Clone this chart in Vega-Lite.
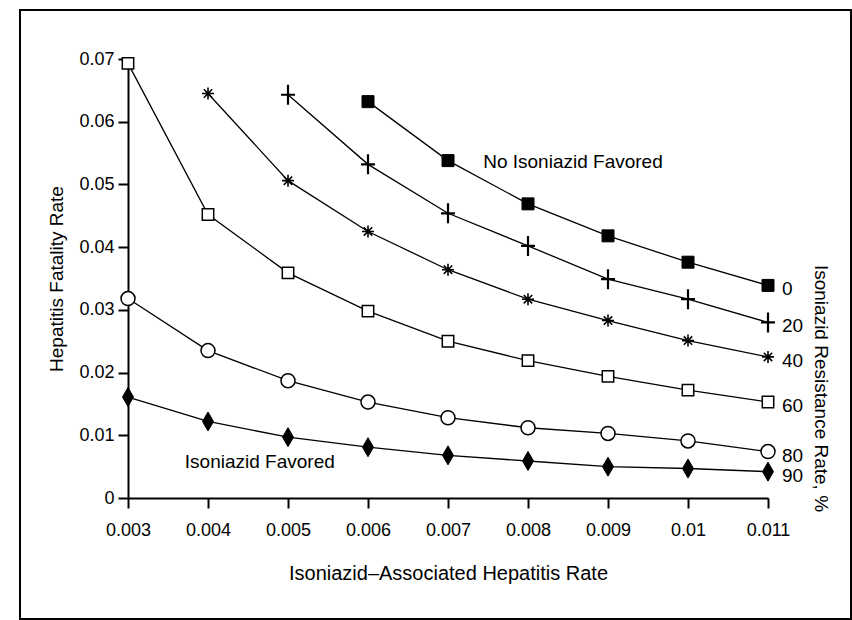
{
  "$schema": "https://vega.github.io/schema/vega-lite/v6.json",
  "width": 831,
  "height": 609,
  "autosize": {"type": "none"},
  "padding": {"left": 20, "top": 10, "right": 1, "bottom": 1},
  "background": "white",
  "config": {
    "view": {"stroke": "black", "strokeWidth": 2},
    "font": "Liberation Sans",
    "axis": {
      "grid": false,
      "domainColor": "black",
      "domainWidth": 2,
      "tickColor": "black",
      "tickWidth": 2,
      "tickSize": 10,
      "labelColor": "black",
      "titleColor": "black",
      "labelFont": "Liberation Sans",
      "titleFont": "Liberation Sans",
      "labelFontSize": 18,
      "titleFontSize": 19,
      "titleFontWeight": "normal",
      "labelFlush": false
    },
    "text": {"font": "Liberation Sans", "color": "black"}
  },
  "datasets": {
    "curves": [
      {"res": "0", "x": 0.006, "y": 0.0632},
      {"res": "0", "x": 0.007, "y": 0.0538},
      {"res": "0", "x": 0.008, "y": 0.0469},
      {"res": "0", "x": 0.009, "y": 0.0418},
      {"res": "0", "x": 0.01, "y": 0.0376},
      {"res": "0", "x": 0.011, "y": 0.0339},
      {"res": "20", "x": 0.005, "y": 0.0643},
      {"res": "20", "x": 0.006, "y": 0.0532},
      {"res": "20", "x": 0.007, "y": 0.0454},
      {"res": "20", "x": 0.008, "y": 0.0402},
      {"res": "20", "x": 0.009, "y": 0.0349},
      {"res": "20", "x": 0.01, "y": 0.0317},
      {"res": "20", "x": 0.011, "y": 0.028},
      {"res": "40", "x": 0.004, "y": 0.0645},
      {"res": "40", "x": 0.005, "y": 0.0506},
      {"res": "40", "x": 0.006, "y": 0.0425},
      {"res": "40", "x": 0.007, "y": 0.0364},
      {"res": "40", "x": 0.008, "y": 0.0317},
      {"res": "40", "x": 0.009, "y": 0.0283},
      {"res": "40", "x": 0.01, "y": 0.0251},
      {"res": "40", "x": 0.011, "y": 0.0225},
      {"res": "60", "x": 0.003, "y": 0.0693},
      {"res": "60", "x": 0.004, "y": 0.0452},
      {"res": "60", "x": 0.005, "y": 0.0359},
      {"res": "60", "x": 0.006, "y": 0.0298},
      {"res": "60", "x": 0.007, "y": 0.025},
      {"res": "60", "x": 0.008, "y": 0.0219},
      {"res": "60", "x": 0.009, "y": 0.0194},
      {"res": "60", "x": 0.01, "y": 0.0172},
      {"res": "60", "x": 0.011, "y": 0.0153},
      {"res": "80", "x": 0.003, "y": 0.0318},
      {"res": "80", "x": 0.004, "y": 0.0235},
      {"res": "80", "x": 0.005, "y": 0.0187},
      {"res": "80", "x": 0.006, "y": 0.0153},
      {"res": "80", "x": 0.007, "y": 0.0128},
      {"res": "80", "x": 0.008, "y": 0.0112},
      {"res": "80", "x": 0.009, "y": 0.0103},
      {"res": "80", "x": 0.01, "y": 0.0091},
      {"res": "80", "x": 0.011, "y": 0.0074},
      {"res": "90", "x": 0.003, "y": 0.0161},
      {"res": "90", "x": 0.004, "y": 0.0122},
      {"res": "90", "x": 0.005, "y": 0.0097},
      {"res": "90", "x": 0.006, "y": 0.0081},
      {"res": "90", "x": 0.007, "y": 0.0068},
      {"res": "90", "x": 0.008, "y": 0.0059},
      {"res": "90", "x": 0.009, "y": 0.005},
      {"res": "90", "x": 0.01, "y": 0.0047},
      {"res": "90", "x": 0.011, "y": 0.0042}
    ],
    "notes": [
      {"x": 0.00744, "y": 0.0535, "note": "No Isoniazid Favored"},
      {"x": 0.00371, "y": 0.00577, "note": "Isoniazid Favored"}
    ]
  },
  "resolve": {"axis": {"y": "independent"}},
  "layer": [
    {
      "data": {"name": "curves"},
      "mark": {"type": "line", "color": "black", "strokeWidth": 1.3},
      "encoding": {
        "x": {
          "field": "x", "type": "quantitative",
          "scale": {"domain": [0.003, 0.011], "range": [108, 748], "nice": false, "zero": false},
          "axis": {
            "title": "Isoniazid–Associated Hepatitis Rate",
            "values": [0.003, 0.004, 0.005, 0.006, 0.007, 0.008, 0.009, 0.01, 0.011],
            "format": "~g", "offset": -121, "labelPadding": 13, "titlePadding": 24, "titleFontSize": 20
          }
        },
        "y": {
          "field": "y", "type": "quantitative",
          "scale": {"domain": [0, 0.07], "range": [488, 49], "nice": false, "zero": true},
          "axis": {
            "title": "Hepatitis Fatality Rate",
            "values": [0, 0.01, 0.02, 0.03, 0.04, 0.05, 0.06, 0.07],
            "format": "~g", "offset": -108, "labelPadding": 4, "titlePadding": 12
          }
        },
        "detail": {"field": "res", "type": "nominal"},
        "order": {"field": "x", "type": "quantitative"}
      }
    },
    {
      "data": {"name": "curves"},
      "mark": {"type": "point", "filled": true, "stroke": "black", "opacity": 1},
      "encoding": {
        "x": {"field": "x", "type": "quantitative"},
        "y": {"field": "y", "type": "quantitative", "axis": null},
        "shape": {
          "field": "res", "type": "nominal", "legend": null,
          "scale": {
            "domain": ["0", "20", "40", "60", "80", "90"],
            "range": ["square", "M-0.7,0H0.7M0,-1V1", "M-1,0H1M0,-1V1M-0.7,-0.7L0.7,0.7M-0.7,0.7L0.7,-0.7", "square", "circle", "M0,-1L0.58,0L0,1L-0.58,0Z"]
          }
        },
        "fill": {
          "field": "res", "type": "nominal", "legend": null,
          "scale": {"domain": ["0", "20", "40", "60", "80", "90"], "range": ["black", "black", "black", "white", "white", "black"]}
        },
        "size": {
          "field": "res", "type": "ordinal", "legend": null,
          "scale": {"type": "ordinal", "domain": ["0", "20", "40", "60", "80", "90"], "range": [144, 400, 144, 130, 196, 361]}
        },
        "strokeWidth": {
          "field": "res", "type": "ordinal", "legend": null,
          "scale": {"type": "ordinal", "domain": ["0", "20", "40", "60", "80", "90"], "range": [1, 2.2, 1.6, 1.5, 1.5, 1]}
        }
      }
    },
    {
      "data": {"name": "curves"},
      "transform": [{"filter": "datum.x == 0.011"}],
      "mark": {"type": "text", "align": "left", "baseline": "middle", "dx": 14, "dy": 4, "fontSize": 19},
      "encoding": {
        "x": {"field": "x", "type": "quantitative"},
        "y": {
          "field": "y", "type": "quantitative",
          "axis": {
            "orient": "right", "title": "Isoniazid Resistance Rate, %",
            "labels": false, "ticks": false, "domain": false,
            "titleX": -31, "titleY": 378, "titleAngle": 90,
            "titleAlign": "center", "titleBaseline": "middle", "titleFontSize": 19
          }
        },
        "text": {"field": "res", "type": "nominal"}
      }
    },
    {
      "data": {"name": "notes"},
      "mark": {"type": "text", "align": "left", "baseline": "middle", "fontSize": 19},
      "encoding": {
        "x": {"field": "x", "type": "quantitative"},
        "y": {"field": "y", "type": "quantitative", "axis": null},
        "text": {"field": "note", "type": "nominal"}
      }
    }
  ]
}
